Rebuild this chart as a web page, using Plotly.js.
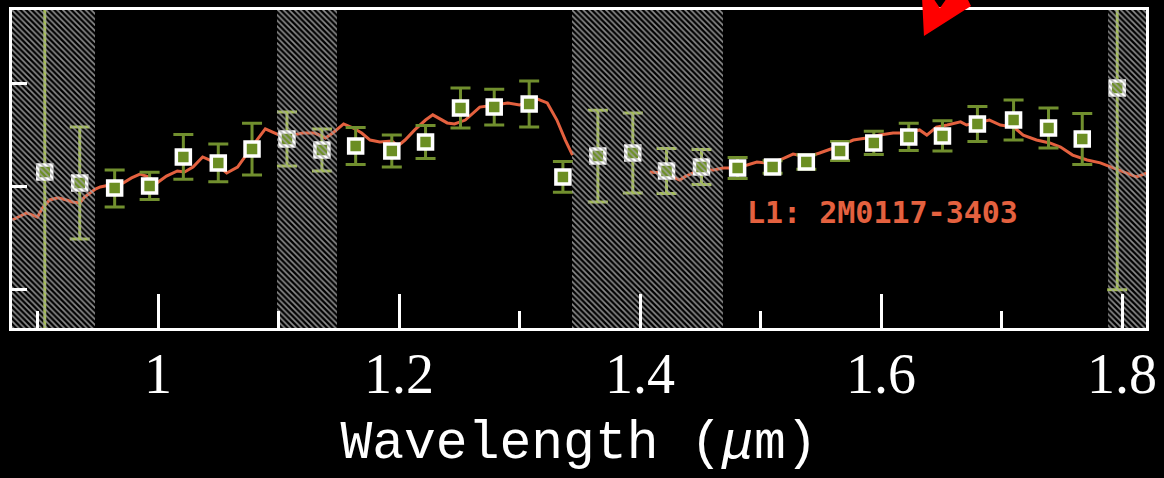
<!DOCTYPE html>
<html><head><meta charset="utf-8">
<script src="https://cdn.plot.ly/plotly-3.0.1.min.js"></script>
<style>html,body{margin:0;padding:0;background:#000;} #chart{width:1164px;height:478px;}</style>
</head><body><div id="chart"></div>
<script>
// Observed photometric spectrum (binned)
const wavelength = [0.906, 0.935, 0.964, 0.993, 1.021, 1.050, 1.078, 1.107, 1.136, 1.164, 1.194, 1.222, 1.251, 1.279, 1.308, 1.336, 1.365, 1.394, 1.422, 1.451, 1.481, 1.510, 1.538, 1.566, 1.594, 1.623, 1.651, 1.680, 1.710, 1.739, 1.767, 1.796];
const flux = [1.073, 1.019, 0.995, 1.005, 1.146, 1.117, 1.184, 1.233, 1.180, 1.199, 1.175, 1.218, 1.383, 1.388, 1.403, 1.049, 1.150, 1.165, 1.078, 1.097, 1.092, 1.097, 1.121, 1.175, 1.214, 1.243, 1.248, 1.306, 1.325, 1.286, 1.233, 1.481];
const fluxErrPlus = [2.0, 0.272, 0.088, 0.066, 0.109, 0.092, 0.126, 0.131, 0.102, 0.090, 0.078, 0.080, 0.097, 0.087, 0.112, 0.075, 0.223, 0.194, 0.109, 0.085, 0.051, 0.030, 0.035, 0.046, 0.056, 0.066, 0.073, 0.085, 0.097, 0.097, 0.124, 2.0];
const fluxErrMinus = [2.0, 0.272, 0.092, 0.066, 0.109, 0.092, 0.126, 0.131, 0.102, 0.090, 0.078, 0.080, 0.097, 0.087, 0.112, 0.075, 0.223, 0.194, 0.109, 0.085, 0.051, 0.030, 0.035, 0.046, 0.056, 0.066, 0.073, 0.085, 0.097, 0.097, 0.124, 0.98];

// Template spectrum (L1: 2M0117-3403); null marks the gap
const modelWave = [0.879, 0.885, 0.891, 0.900, 0.904, 0.910, 0.917, 0.924, 0.929, 0.935, 0.939, 0.948, 0.952, 0.960, 0.971, 0.978, 0.985, 0.992, 0.999, 1.007, 1.016, 1.022, 1.029, 1.037, 1.043, 1.051, 1.057, 1.066, 1.074, 1.082, 1.089, 1.095, 1.104, 1.112, 1.120, 1.130, 1.139, 1.145, 1.154, 1.162, 1.169, 1.176, 1.184, 1.194, 1.199, 1.205, 1.213, 1.222, 1.228, 1.240, 1.246, 1.255, 1.267, 1.280, 1.290, 1.300, 1.307, 1.315, 1.323, 1.331, 1.338, 1.344, 1.376,
  1.408, 1.419, 1.427, 1.433, 1.437, 1.444, 1.452, 1.461, 1.469, 1.477, 1.489, 1.497, 1.505, 1.516, 1.527, 1.539, 1.549, 1.563, 1.577, 1.588, 1.599, 1.610, 1.622, 1.632, 1.638, 1.646, 1.655, 1.666, 1.671, 1.680, 1.690, 1.699, 1.710, 1.718, 1.729, 1.740, 1.749, 1.759, 1.771, 1.782, 1.793, 1.804, 1.812, 1.821];
const modelFlux = [0.840, 0.859, 0.874, 0.854, 0.898, 0.937, 0.947, 0.937, 0.927, 0.922, 0.951, 0.990, 1.000, 1.010, 1.019, 1.044, 1.063, 1.049, 1.019, 1.053, 1.078, 1.073, 1.097, 1.146, 1.131, 1.097, 1.068, 1.097, 1.165, 1.228, 1.282, 1.267, 1.243, 1.252, 1.262, 1.262, 1.238, 1.262, 1.306, 1.286, 1.262, 1.228, 1.218, 1.223, 1.199, 1.228, 1.277, 1.325, 1.350, 1.311, 1.306, 1.325, 1.388, 1.398, 1.408, 1.398, 1.413, 1.427, 1.408, 1.325, 1.228, 1.155, null,
  1.073, 1.068, 1.049, 1.034, 1.049, 1.068, 1.083, 1.083, 1.092, 1.092, 1.107, 1.121, 1.117, 1.131, 1.160, 1.146, 1.165, 1.194, 1.228, 1.238, 1.252, 1.262, 1.262, 1.277, 1.252, 1.291, 1.301, 1.316, 1.301, 1.311, 1.325, 1.301, 1.291, 1.252, 1.228, 1.214, 1.194, 1.155, 1.131, 1.117, 1.092, 1.068, 1.049, 1.068];

// Telluric (hatched) bands, wavelength edges
const bandStart = [0.879, 1.0988, 1.3436, 1.7884];
const bandEnd   = [0.948, 1.1485, 1.4689, 1.820];

const xRange = [0.8788, 1.8199];
const yRange = [0.3155, 1.8592];
const xTickVals = [1.0, 1.2, 1.4, 1.6, 1.8];
const xTickText = ['1', '1.2', '1.4', '1.6', '1.8'];
const yTickVals = [0.5, 1.0, 1.5];
const templateLabel = 'L1: 2M0117-3403';

const RED = '#e4613f';
const inBand = wavelength.map(w => bandStart.some((s, i) => w >= s && w <= bandEnd[i]));
function pick(arr, flag) { return arr.filter((_, i) => inBand[i] === flag); }

function pointsTrace(flag, errColor) {
  return {
    type: 'scatter', mode: 'markers', x: pick(wavelength, flag), y: pick(flux, flag),
    error_y: { type: 'data', symmetric: false, array: pick(fluxErrPlus, flag), arrayminus: pick(fluxErrMinus, flag),
      color: errColor, thickness: 3, width: 10 },
    marker: { symbol: 'square', size: 14, color: '#6b8e23', line: { color: '#ffffff', width: 3.5 } },
    hoverinfo: 'skip', showlegend: false, cliponaxis: true
  };
}

const traces = [
  { type: 'scatter', mode: 'lines', x: modelWave, y: modelFlux, connectgaps: false,
    line: { color: RED, width: 3 }, hoverinfo: 'skip', showlegend: false },
  pointsTrace(false, '#718f2e'),
  pointsTrace(true, '#a3bd52'),
  { type: 'bar', xaxis: 'x2', yaxis: 'y2',
    x: bandStart.map((s, i) => (s + bandEnd[i]) / 2),
    width: bandStart.map((s, i) => bandEnd[i] - s),
    base: bandStart.map(() => yRange[0]),
    y: bandStart.map(() => yRange[1] - yRange[0]),
    marker: { color: 'rgba(0,0,0,0)', line: { width: 0 },
      pattern: { shape: '\\', fgcolor: 'rgba(165,165,165,0.85)', bgcolor: 'rgba(0,0,0,0)', size: 4, solidity: 0.42, fillmode: 'replace' } },
    hoverinfo: 'skip', showlegend: false }
];

// plot area in pixels (for the red arrow decoration)
const PL = 12, PR = 1146, PT = 10, PB = 328;
function px(x) { return ((x - PL) / (PR - PL)).toFixed(4); }
function py(y) { return ((PB - y) / (PB - PT)).toFixed(4); }
const arrowPx = [[922, -2], [933, -2], [940, 8], [947, -2], [967, -2], [971, 6], [924, 36]];
const arrowPath = 'M' + arrowPx.map(p => px(p[0]) + ',' + py(p[1])).join(' L') + ' Z';

const layout = {
  width: 1164, height: 478,
  margin: { l: PL, r: 1164 - PR, t: PT, b: 478 - PB, pad: 0 },
  paper_bgcolor: '#000000', plot_bgcolor: '#000000',
  showlegend: false,
  xaxis: {
    range: xRange, autorange: false, showgrid: false, zeroline: false,
    showline: true, mirror: true, linecolor: '#ffffff', linewidth: 3,
    tickmode: 'array', tickvals: xTickVals, ticktext: xTickText,
    ticks: 'inside', ticklen: 34, tickwidth: 3, tickcolor: '#ffffff',
    minor: { dtick: 0.1, tick0: 0, ticks: 'inside', ticklen: 17, tickwidth: 3, tickcolor: '#ffffff', showgrid: false },
    tickfont: { family: 'Liberation Serif', size: 56, color: '#ffffff' },
    ticklabelstandoff: -5,
    automargin: false,
    title: { text: 'Wavelength (<i>μ</i>m)', font: { family: 'Liberation Mono', size: 53, color: '#ffffff' }, standoff: 17 }
  },
  yaxis: {
    range: yRange, autorange: false, showgrid: false, zeroline: false,
    showline: true, mirror: true, linecolor: '#ffffff', linewidth: 3,
    tickmode: 'array', tickvals: yTickVals, showticklabels: false,
    ticks: 'inside', ticklen: 15, tickwidth: 3, tickcolor: '#ffffff', automargin: false
  },
  xaxis2: { overlaying: 'x', range: xRange, autorange: false, visible: false },
  yaxis2: { overlaying: 'y', range: yRange, autorange: false, visible: false },
  bargap: 0,
  annotations: [
    { xref: 'x', yref: 'y', x: 1.4867, y: 0.875, text: '<b>' + templateLabel + '</b>', showarrow: false,
      xanchor: 'left', yanchor: 'middle', font: { family: 'DejaVu Sans Mono', size: 30, color: RED } }
  ],
  shapes: [
    { type: 'path', xref: 'paper', yref: 'paper', path: arrowPath, fillcolor: '#ff0000', line: { width: 0 }, layer: 'above' }
  ]
};

Plotly.newPlot('chart', traces, layout, { staticPlot: true, displayModeBar: false });
</script>
</body></html>
